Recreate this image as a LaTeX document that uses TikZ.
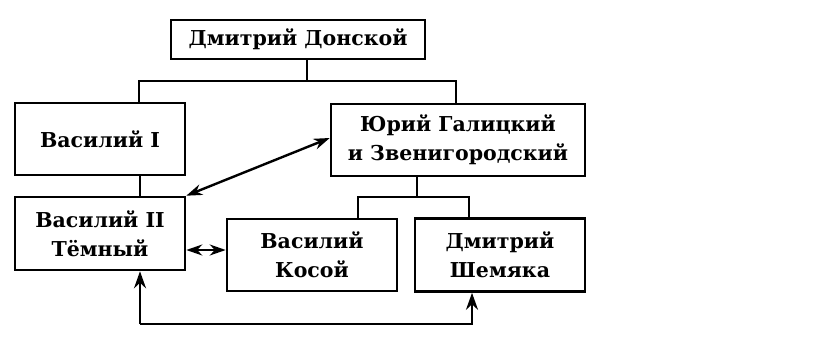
\documentclass[tikz,border=0pt]{standalone}
\usepackage{fontspec}
\setmainfont{DejaVu Serif}
\usetikzlibrary{arrows.meta}
\begin{document}
\begin{tikzpicture}[x=1pt,y=-1pt,
  box/.style={draw,line width=2.6pt,rectangle,inner sep=0pt,align=center,
    font=\bfseries\fontsize{20.5}{29}\selectfont},
  conn/.style={line width=2.6pt},
  arr/.style={line width=2.4pt,-{Stealth[length=17pt,width=12pt]}},
  darr/.style={line width=2.4pt,{Stealth[length=16pt,width=11pt]}-{Stealth[length=16pt,width=11pt]}}]
\useasboundingbox (0,0) rectangle (821,340);
\node[box,minimum width=254pt,minimum height=39pt] (top) at (298,39.5) {Дмитрий Донской};
\node[box,minimum width=170pt,minimum height=72pt] (v1) at (100,139) {Василий I};
\node[box,minimum width=254pt,minimum height=72pt] (yu) at (458,140) {Юрий Галицкий\\и Звенигородский};
\node[box,minimum width=170pt,minimum height=73pt] (v2) at (100,233.5) {Василий II\\Тёмный};
\node[box,minimum width=170pt,minimum height=72pt] (ko) at (312,255) {Василий\\Косой};
\node[box,minimum width=170pt,minimum height=73pt] (sh) at (500,255) {Дмитрий\\Шемяка};
\coordinate (a1) at (307,81);
\coordinate (a2) at (417,197);
\coordinate (b1) at (140,324);
\draw[conn] (top.south -| a1) -- (a1);
\draw[conn] (v1.north -| 139,0) |- (a1) -| (yu.north -| 456,0);
\draw[conn] (v1.south -| b1) -- (v2.north -| b1);
\draw[conn] (yu.south -| a2) -- (a2);
\draw[conn] (ko.north -| 358,0) |- (a2) -| (sh.north -| 469,0);
\draw[darr] (v2.north east) -- (yu.west |- 0,138);
\draw[darr] (v2.east |- 0,250) -- (ko.west |- 0,250);
\draw[arr] (b1) -- (v2.south -| b1);
\draw[arr] (b1) -| (sh.south -| 472,0);
\end{tikzpicture}
\end{document}
